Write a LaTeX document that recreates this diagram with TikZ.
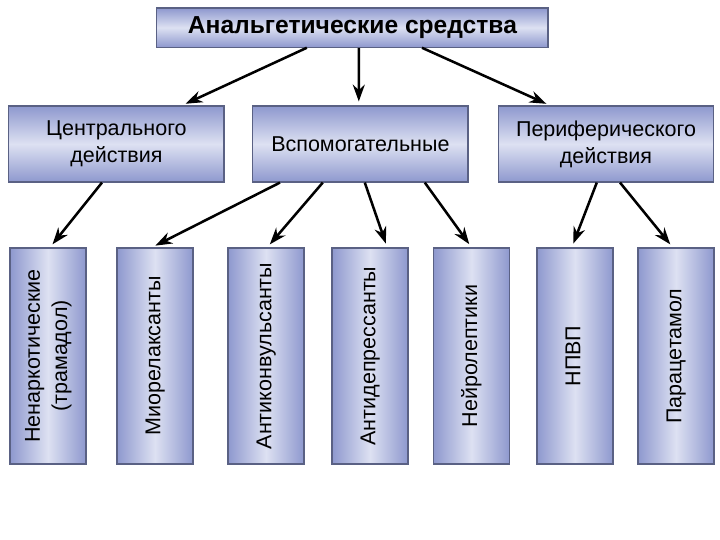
\documentclass[tikz,border=0pt]{standalone}
\usepackage{fontspec}
\setmainfont{Liberation Sans}
\usetikzlibrary{arrows.meta}
\definecolor{boxedge}{HTML}{8E98CE}
\definecolor{boxlight}{HTML}{DDE1F2}
\definecolor{boxline}{HTML}{5A6184}
\newcommand{\vlabel}[1]{\rotatebox{90}{\begin{tabular}{@{}c@{}}#1\end{tabular}}}

\begin{document}
\begin{tikzpicture}[
  box/.style={draw=boxline,line width=0.8pt,align=center,inner sep=2pt},
  head/.style={box,top color=boxedge,bottom color=boxedge,middle color=boxlight,minimum width=9.78cm,minimum height=0.98cm,font=\fontsize{17.5}{20}\selectfont\bfseries},
  grp/.style={box,top color=boxedge,bottom color=boxedge,middle color=boxlight,minimum width=5.38cm,minimum height=1.9cm,font=\fontsize{15.3}{19}\selectfont},
  drug/.style={box,left color=boxedge,right color=boxedge,middle color=boxlight,minimum width=1.9cm,minimum height=5.4cm,font=\fontsize{15.3}{19.5}\selectfont},
  ar/.style={-{Stealth[length=4.2mm,width=3mm]},line width=1.8pt,shorten >=1mm},
]
\useasboundingbox (0,0) rectangle (18,-13.5);

% top
\node[head] (top) at (8.81,-0.69) {Анальгетические средства};

% groups
\node[grp] (cen) at (2.91,-3.6) {Центрального\\действия};
\node[grp] (aux) at (9.01,-3.6) {Вспомогательные};
\node[grp] (per) at (15.15,-3.6) {Периферического\\действия};
\draw[ar] ([xshift=-1.14cm]top.south) -- ([xshift=1.64cm]cen.north);
\draw[ar] ([xshift=0.16cm]top.south) -- ([xshift=-0.04cm]aux.north);
\draw[ar] ([xshift=1.74cm]top.south) -- ([xshift=-1.4cm]per.north);

% drugs
\node[drug] (d1) at (1.2,-8.9) {\vlabel{Ненаркотические\\(трамадол)}};
\node[drug] (d2) at (3.875,-8.9) {\vlabel{Миорелаксанты}};
\node[drug] (d3) at (6.65,-8.9) {\vlabel{Антиконвульсанты}};
\node[drug] (d4) at (9.25,-8.9) {\vlabel{Антидепрессанты}};
\node[drug] (d5) at (11.79,-8.9) {\vlabel{Нейролептики}};
\node[drug] (d6) at (14.375,-8.9) {\vlabel{НПВП}};
\node[drug] (d7) at (16.9,-8.9) {\vlabel{Парацетамол}};

\draw[ar] ([xshift=-0.36cm]cen.south) -- ([xshift=0.05cm]d1.north);
\draw[ar] ([xshift=-2.01cm]aux.south) -- ([xshift=-0.08cm]d2.north);
\draw[ar] ([xshift=-0.94cm]aux.south) -- ([xshift=0.03cm]d3.north);
\draw[ar] ([xshift=0.11cm]aux.south) -- ([xshift=0.43cm]d4.north);
\draw[ar] ([xshift=1.61cm]aux.south) -- (d5.north);
\draw[ar] ([xshift=-0.23cm]per.south) -- ([xshift=-0.08cm]d6.north);
\draw[ar] ([xshift=0.35cm]per.south) -- ([xshift=-0.08cm]d7.north);
\end{tikzpicture}
\end{document}
